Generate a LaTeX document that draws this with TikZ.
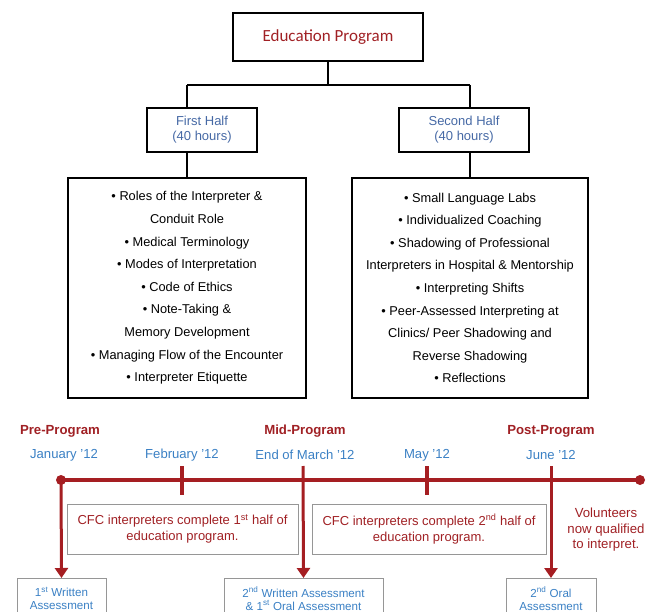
\documentclass[tikz,border=0pt]{standalone}
\usepackage{fontspec}
\setmainfont{Liberation Sans}
\newfontfamily\titlefont{Carlito}
\usetikzlibrary{arrows.meta}
\definecolor{progRed}{RGB}{160,32,36}
\definecolor{lineRed}{RGB}{165,30,34}
\definecolor{monthBlue}{RGB}{58,128,196}
\definecolor{halfBlue}{RGB}{70,105,165}
\definecolor{boxGray}{RGB}{150,150,150}
\tikzset{
  topbox/.style={draw=black, line width=1.5pt, inner sep=0pt},
  listbox/.style={draw=black, line width=1.5pt, inner sep=0pt, align=center,
    font=\fontsize{12.8}{22.6}\selectfont},
  notebox/.style={draw=boxGray, line width=1pt, inner sep=0pt, align=center,
    text=progRed, font=\fontsize{13}{16}\selectfont},
  assessbox/.style={draw=boxGray, line width=1pt, inner sep=0pt, align=center,
    text=monthBlue, font=\fontsize{11.6}{13}\selectfont},
  phase/.style={text=progRed, font=\fontsize{13.2}{15}\selectfont\bfseries},
  month/.style={text=monthBlue, font=\fontsize{13.1}{15}\selectfont},
  tree/.style={draw=black, line width=1.5pt},
  tl/.style={draw=lineRed, line width=3.4pt},
  tlarrow/.style={draw=lineRed, line width=3pt, -{Triangle[width=13pt,length=10pt]}}
}
\begin{document}
\begin{tikzpicture}[x=1pt, y=-1pt]
\useasboundingbox (0,0) rectangle (656,612);
\clip (0,0) rectangle (656,612);
% Program tree
\node[topbox, minimum width=190pt, minimum height=48pt, text=progRed,
  font=\titlefont\fontsize{17}{19}\selectfont] (edu) at (328,37) {Education Program};
\node[topbox, minimum width=110pt, minimum height=44pt, align=center, text=halfBlue,
  font=\fontsize{13}{15}\selectfont] (firsthalf) at (202,130) {First Half\\(40 hours)};
\node[topbox, minimum width=130pt, minimum height=44pt, align=center, text=halfBlue,
  font=\fontsize{13}{15}\selectfont] (secondhalf) at (464,130) {Second Half\\(40 hours)};
\node[listbox, minimum width=238pt, minimum height=220pt] (firstlist) at (187,288)
  {• Roles of the Interpreter \&\\Conduit Role\\• Medical Terminology\\
   • Modes of Interpretation\\• Code of Ethics\\• Note-Taking \&\\
   Memory Development\\• Managing Flow of the Encounter\\• Interpreter Etiquette};
\node[listbox, minimum width=236pt, minimum height=220pt] (secondlist) at (470,288)
  {• Small Language Labs\\• Individualized Coaching\\
   • Shadowing of Professional\\Interpreters in Hospital \& Mentorship\\
   • Interpreting Shifts\\• Peer-Assessed Interpreting at\\
   Clinics/ Peer Shadowing and\\Reverse Shadowing\\• Reflections};
\coordinate (split) at (328,85);
\coordinate (firstdrop) at (187,85);
\coordinate (seconddrop) at (470,85);
\draw[tree] (edu.south) -- (split);
\draw[tree] (firstdrop) -- (seconddrop);
\draw[tree] (firstdrop) -- (firstdrop |- firsthalf.north);
\draw[tree] (seconddrop) -- (seconddrop |- secondhalf.north);
\draw[tree] (firstdrop |- firsthalf.south) -- (firstdrop |- firstlist.north);
\draw[tree] (seconddrop |- secondhalf.south) -- (seconddrop |- secondlist.north);
% Timeline labels
\node[phase] (pre) at (60,431) {Pre-Program};
\node[phase] (mid) at (305,431) {Mid-Program};
\node[phase] (post) at (551,431) {Post-Program};
\node[month] (jan) at (64,455) {January '12};
\node[month] (feb) at (182,455) {February '12};
\node[month] (mar) at (305,455) {End of March '12};
\node[month] (may) at (427,455) {May '12};
\node[month] (jun) at (551,455) {June '12};
% Timeline
\coordinate (tlstart) at (61,480);
\coordinate (tlend) at (640,480);
\draw[tl] (tlstart) -- (tlend);
\fill[lineRed] (tlstart) circle (5pt);
\fill[lineRed] (tlend) circle (5pt);
\draw[tl] (182,466) -- (182,495);
\draw[tl] (427,466) -- (427,495);
% Notes
\node[notebox, minimum width=231pt, minimum height=50pt] (firstnote) at (182.5,529)
  {CFC interpreters complete 1\textsuperscript{st} half of\\education program.};
\node[notebox, minimum width=234pt, minimum height=50pt] (secondnote) at (429,529)
  {CFC interpreters complete 2\textsuperscript{nd} half of\\education program.};
\node[align=center, text=progRed, font=\fontsize{13.2}{15.5}\selectfont] (qualified) at (606,530)
  {Volunteers\\now qualified\\to interpret.};
% Assessments
\node[assessbox, anchor=north, minimum width=89pt, minimum height=40pt] (writtenone) at (61.5,578)
  {1\textsuperscript{st} Written\\Assessment};
\node[assessbox, anchor=north, minimum width=159pt, minimum height=40pt] (writtentwo) at (303.5,578)
  {2\textsuperscript{nd} Written Assessment\\\& 1\textsuperscript{st} Oral Assessment};
\node[assessbox, anchor=north, minimum width=90pt, minimum height=40pt] (oraltwo) at (551,578)
  {2\textsuperscript{nd} Oral\\Assessment};
\draw[tlarrow] (tlstart) -- (writtenone.north);
\draw[tlarrow] (303,466) -- (writtentwo.north);
\draw[tlarrow] (551,466) -- (oraltwo.north);
\end{tikzpicture}
\end{document}
